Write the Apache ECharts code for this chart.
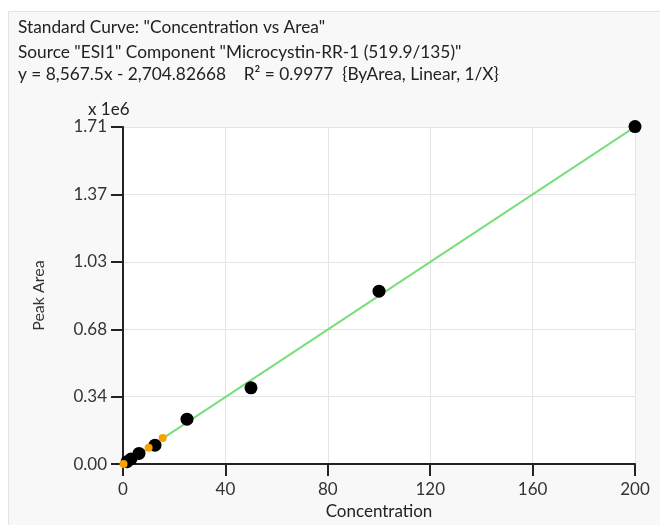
<!DOCTYPE html>
<html>
<head>
<meta charset="utf-8">
<script src="https://cdn.jsdelivr.net/npm/echarts@6/dist/echarts.min.js"></script>
<style>
html,body{margin:0;padding:0;background:#fff;}
#chart{width:660px;height:525px;}
</style>
</head>
<body>
<div id="chart"></div>
<script>
// Data (concentration, peak area in units of 1e6)
const titleLines = [
  'Standard Curve: "Concentration vs Area"',
  'Source "ESI1" Component "Microcystin-RR-1 (519.9/135)"',
  'y = 8,567.5x - 2,704.82668    R\u00b2 = 0.9977  {ByArea, Linear, 1/X}'
];
const yUnitLabel = 'x 1e6';
const calConc = [1.5625, 3.125, 6.25, 12.5, 25, 50, 100, 200];
const calArea = [0.012, 0.026, 0.054, 0.096, 0.228, 0.387, 0.877, 1.712];
const qcConc = [0.2, 10, 15.5];
const qcArea = [0.0, 0.083, 0.132];
const fitSlope = 8567.5;       // raw area per unit concentration
const fitIntercept = -2704.82668;
const fitRange = [0.3, 200];
const yMax = 1.71;
const yInterval = 0.342;

const fitLine = fitRange.map(x => [x, (fitSlope * x + fitIntercept) / 1e6]);
const calData = calConc.map((c, i) => [c, calArea[i]]);
const qcData = qcConc.map((c, i) => [c, qcArea[i]]);

const FONT = 'Lato';
const TF = '17.3px Lato';
const chart = echarts.init(document.getElementById('chart'), null, {renderer: 'canvas'});
chart.setOption({
  backgroundColor: '#ffffff',
  animation: false,
  textStyle: {fontFamily: FONT},
  graphic: [
    {type: 'rect', z: -10, silent: true,
     shape: {x: 8.5, y: 11.5, width: 700, height: 600},
     style: {fill: '#f8f8f8', stroke: '#e3e3e3', lineWidth: 1}},
    {type: 'text', left: 18, top: 19, style: {text: titleLines[0], font: TF, fill: '#222'}},
    {type: 'text', left: 18, top: 44, style: {text: titleLines[1], font: TF, fill: '#222'}},
    {type: 'text', left: 18, top: 66, style: {text: titleLines[2], font: TF, fill: '#222'}},
    {type: 'text', left: 88, top: 101, style: {text: yUnitLabel, font: '17px Lato', fill: '#222'}}
  ],
  grid: {left: 123, right: 25, top: 127, bottom: 58, show: true, backgroundColor: '#ffffff', borderWidth: 0},
  xAxis: {
    type: 'value', min: 0, max: 200, interval: 40,
    name: 'Concentration', nameLocation: 'middle', nameGap: 37,
    nameTextStyle: {fontSize: 17, color: '#222', fontFamily: FONT},
    axisLine: {show: true, onZero: false, lineStyle: {color: '#222', width: 2}},
    axisTick: {show: true, length: 12, lineStyle: {color: '#222', width: 2}},
    axisLabel: {fontSize: 17, color: '#333', margin: 17, fontFamily: FONT},
    splitLine: {show: true, lineStyle: {color: '#e4e4e4', width: 1}}
  },
  yAxis: {
    type: 'value', min: 0, max: yMax, interval: yInterval,
    name: 'Peak Area', nameLocation: 'middle', nameGap: 76, nameRotate: 90,
    nameTextStyle: {fontSize: 16, color: '#333', fontFamily: FONT},
    axisLine: {show: true, onZero: false, lineStyle: {color: '#222', width: 2}},
    axisTick: {show: true, length: 12, lineStyle: {color: '#222', width: 2}},
    axisLabel: {fontSize: 17, color: '#333', margin: 16, fontFamily: FONT,
                formatter: v => v.toFixed(2)},
    splitLine: {show: true, lineStyle: {color: '#e4e4e4', width: 1}}
  },
  series: [
    {type: 'line', data: fitLine, symbol: 'none', silent: true, z: 2,
     lineStyle: {color: '#7ade7a', width: 2}},
    {type: 'scatter', data: calData, symbol: 'circle', symbolSize: 13, z: 3, clip: false,
     itemStyle: {color: '#000000', opacity: 1}},
    {type: 'scatter', data: qcData, symbol: 'circle', symbolSize: 8, z: 4, clip: false,
     itemStyle: {color: '#f5a300', opacity: 1}}
  ]
});
</script>
</body>
</html>
